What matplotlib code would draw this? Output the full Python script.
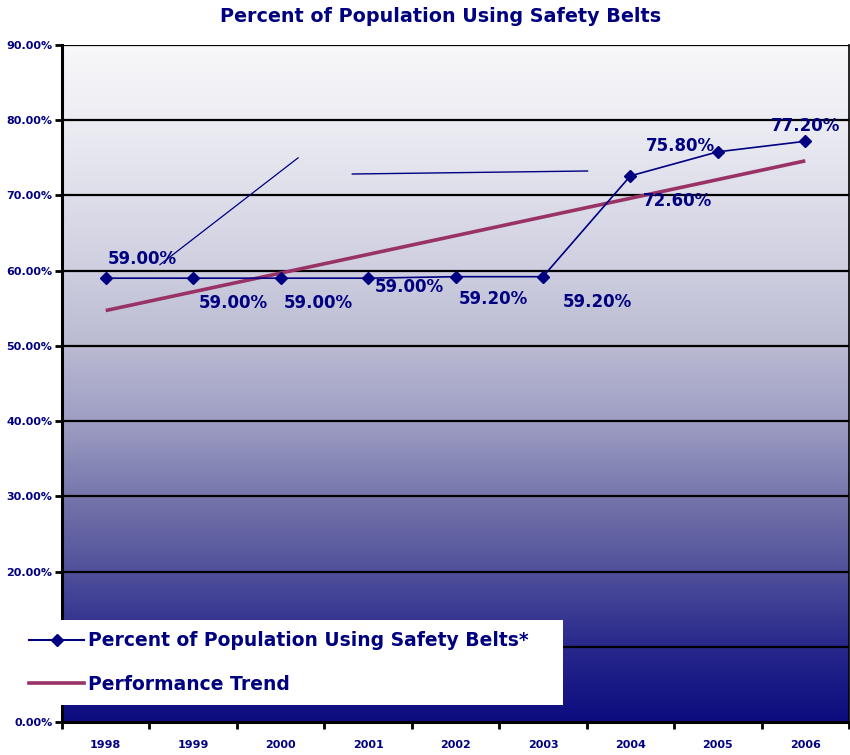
import numpy as np
import matplotlib.pyplot as plt
from matplotlib.patches import Rectangle
from matplotlib.lines import Line2D

years = ['1998', '1999', '2000', '2001', '2002', '2003', '2004', '2005', '2006']
belt_use = [59.0, 59.0, 59.0, 59.0, 59.2, 59.2, 72.6, 75.8, 77.2]
trend_x = [0, 8]
trend_y = [54.7, 74.6]
# label offsets in points (dx, dy) as they sit in the original
label_offsets = [(26, 14), (29, -18), (27, -18), (30, -6), (27, -16),
                 (39, -18), (34, -18), (-27, 4), (0, 11)]
yticks = np.arange(0, 91, 10)

navy = '#000080'
plum = '#993366'

fig = plt.figure(figsize=(8.5, 7.55), dpi=100)
ax = fig.add_axes([62/850, 33/755, 787/850, 677/755])

# background gradient, light at top to navy at bottom
stops_y = [0, 10, 20, 30, 40, 50, 60, 70, 80, 90]
stops_c = np.array([(12, 12, 128), (40, 40, 140), (80, 80, 155), (118, 118, 172),
                    (158, 158, 196), (186, 186, 210), (206, 206, 224),
                    (222, 222, 234), (236, 236, 243), (248, 248, 250)]) / 255
yy = np.linspace(90, 0, 400)
grad = np.stack([np.interp(yy, stops_y, stops_c[:, i]) for i in range(3)], axis=-1)
grad = grad[:, None, :].repeat(2, axis=1)
ax.imshow(grad, extent=(-0.5, 8.5, 0, 90), aspect='auto', zorder=0, interpolation='bilinear')

for v in yticks[1:]:
    ax.axhline(v, color='black', lw=1.6, zorder=1)

x = np.arange(len(years))
ax.plot(trend_x, trend_y, color=plum, lw=2.6, zorder=2, solid_capstyle='butt')
ax.plot(x, belt_use, color=navy, lw=1.2, marker='D', ms=6, zorder=3)

# stray leader lines left in the original
ax.plot([0.62, 2.20], [60.8, 75.0], color=navy, lw=0.9, zorder=3)
ax.plot([2.82, 5.51], [72.85, 73.25], color=navy, lw=1.0, zorder=3)

for xi, v, off in zip(x, belt_use, label_offsets):
    ax.annotate(f'{v:.2f}%', (xi, v), xytext=off, textcoords='offset points',
                ha='center', va='center', fontsize=12, fontweight='bold',
                color=navy, zorder=4)

ax.set_xlim(-0.5, 8.5)
ax.set_ylim(0, 90)
ax.set_yticks(yticks)
ax.set_yticklabels([f'{v:.2f}%' for v in yticks], fontsize=8, fontweight='bold', color=navy)
ax.set_xticks(x)
ax.set_xticklabels(years, fontsize=8, fontweight='bold', color=navy)
ax.set_xticks(np.arange(-0.5, 8.6, 1), minor=True)
ax.tick_params(axis='x', which='major', length=0, pad=13)
ax.tick_params(axis='x', which='minor', length=5, width=2, color='black')
ax.tick_params(axis='y', length=5, width=2, color='black', pad=2)
ax.spines['top'].set_visible(False)
ax.spines['left'].set_linewidth(2.2)
ax.spines['bottom'].set_linewidth(2.2)
ax.spines['right'].set_linewidth(1.2)

fig.text(0.518, 0.978, 'Percent of Population Using Safety Belts', ha='center', va='center',
         fontsize=13.8, fontweight='bold', color=navy)

# white legend box reaching into the left margin
fig.add_artist(Rectangle((0, 50/755), 563/850, 85/755, transform=fig.transFigure,
                         facecolor='white', edgecolor='none', zorder=3))
handles = [Line2D([], [], color=navy, lw=1.5, marker='D', ms=6),
           Line2D([], [], color=plum, lw=2.6)]
fig.legend(handles, ['Percent of Population Using Safety Belts*', 'Performance Trend'],
           loc='upper left', bbox_to_anchor=(20/850, 1 - 622/755), frameon=False,
           prop={'size': 13.5, 'weight': 'bold'}, labelcolor=navy,
           handlelength=2.9, handletextpad=0.25, labelspacing=1.3, borderpad=0)

fig.savefig('out.png', dpi=100)
